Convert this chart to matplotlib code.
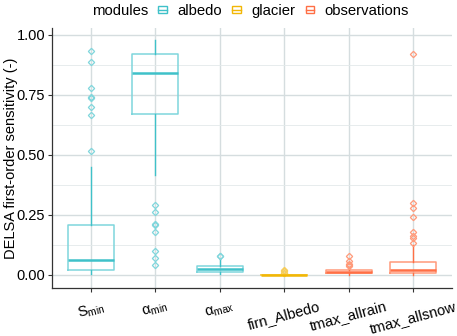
import numpy as np
import matplotlib.pyplot as plt
from matplotlib.legend_handler import HandlerBase
from matplotlib.patches import Rectangle
from matplotlib.lines import Line2D

plt.rcParams['font.family'] = ['Liberation Sans', 'DejaVu Sans']
plt.rcParams['mathtext.fontset'] = 'custom'
plt.rcParams['mathtext.rm'] = 'Liberation Sans'
plt.rcParams['mathtext.it'] = 'Liberation Sans:italic'

labels = [r'S$_{\mathrm{min}}$', '\u03b1$_{\\mathrm{min}}$', '\u03b1$_{\\mathrm{max}}$',
          'firn_Albedo', 'tmax_allrain', 'tmax_allsnow']
modules = ['albedo', 'albedo', 'albedo', 'glacier', 'observations', 'observations']

# box statistics
whislo = [0.003, 0.417, 0.003, 0.000, 0.002, 0.000]
q1 = [0.0225, 0.672, 0.014, 0.000, 0.007, 0.007]
med = [0.064, 0.842, 0.025, 0.001, 0.012, 0.022]
q3 = [0.208, 0.922, 0.036, 0.002, 0.020, 0.056]
whishi = [0.45, 0.979, 0.065, 0.004, 0.032, 0.125]
fliers = [
    [0.932, 0.886, 0.779, 0.740, 0.737, 0.699, 0.668, 0.517],
    [0.290, 0.263, 0.211, 0.207, 0.177, 0.100, 0.071, 0.042],
    [0.078, 0.077],
    [0.021, 0.015, 0.010, 0.007],
    [0.078, 0.057, 0.045, 0.040, 0.036],
    [0.922, 0.300, 0.279, 0.240, 0.177, 0.161, 0.154, 0.132],
]

colors = {'albedo': '#3FC1C9', 'glacier': '#F2B705', 'observations': '#FF6F45'}
light = {'albedo': '#7FD6DC', 'glacier': '#F6CD5A', 'observations': '#FF9A7A'}


class BoxHandler(HandlerBase):
    def create_artists(self, legend, orig_handle, xdescent, ydescent,
                       width, height, fontsize, trans):
        c = orig_handle.get_color()
        w = width * 0.6
        x0 = (width - w) / 2 - xdescent
        h = height * 0.75
        y0 = (height - h) / 2 - ydescent
        rect = Rectangle((x0, y0), w, h, fill=False, edgecolor=c,
                         lw=1.0, transform=trans)
        mid = Line2D([x0, x0 + w], [y0 + h / 2] * 2,
                     color=c, lw=1.0, transform=trans)
        return [rect, mid]


def main():
    fig = plt.figure(figsize=(4.57, 3.36), dpi=100)
    ax = fig.add_axes([0.114, 0.143, 0.875, 0.774])

    pos = np.arange(1, len(labels) + 1)
    for i in range(len(labels)):
        m = modules[i]
        st = [dict(whislo=whislo[i], q1=q1[i], med=med[i], q3=q3[i],
                   whishi=whishi[i], fliers=fliers[i])]
        ax.bxp(st, positions=[pos[i]], widths=0.71, showcaps=False,
               boxprops=dict(color=light[m], lw=1.1),
               whiskerprops=dict(color=colors[m], lw=1.0),
               medianprops=dict(color=colors[m], lw=1.8),
               flierprops=dict(marker='D', markersize=3.2, markerfacecolor='none',
                               markeredgecolor=light[m], markeredgewidth=0.9),
               zorder=3)

    ax.set_xlim(0.4, 6.6)
    ax.set_ylim(-0.054, 1.029)
    ax.set_yticks([0, 0.25, 0.5, 0.75, 1.0])
    ax.set_yticklabels(['0.00', '0.25', '0.50', '0.75', '1.00'], fontsize=10.5)
    ax.set_yticks([0.125, 0.375, 0.625, 0.875], minor=True)
    ax.set_xticks(pos)
    ax.set_xticklabels(labels, fontsize=10.5, rotation=15, ha='center')
    ax.tick_params(axis='x', pad=5, length=3, color='#333333')
    ax.tick_params(axis='y', length=3, color='#333333', labelcolor='black', pad=2)
    ax.tick_params(which='minor', length=0)

    ax.grid(True, which='major', color='#D5DDDF', lw=1.0)
    ax.grid(True, which='minor', axis='y', color='#E3E9EA', lw=0.6)
    ax.set_axisbelow(True)
    for s in ['top', 'right']:
        ax.spines[s].set_visible(False)
    for s in ['left', 'bottom']:
        ax.spines[s].set_color('#333333')
        ax.spines[s].set_linewidth(0.9)

    ax.set_ylabel('DELSA first-order sensitivity (-)', fontsize=10.5)
    ax.yaxis.set_label_coords(-0.085, 0.5)

    handles = [Line2D([], [], color=colors[k]) for k in ['albedo', 'glacier', 'observations']]
    fig.text(0.201, 0.968, 'modules', fontsize=10.7, va='center')
    fig.legend(handles, ['albedo', 'glacier', 'observations'],
               handler_map={Line2D: BoxHandler()},
               loc='center left', bbox_to_anchor=(0.34, 0.968), ncol=3,
               frameon=False, fontsize=10.7, handlelength=1.0,
               handletextpad=0.5, columnspacing=0.47, borderaxespad=0,
               borderpad=0)

    plt.savefig('out.png', dpi=100)


if __name__ == '__main__':
    main()
